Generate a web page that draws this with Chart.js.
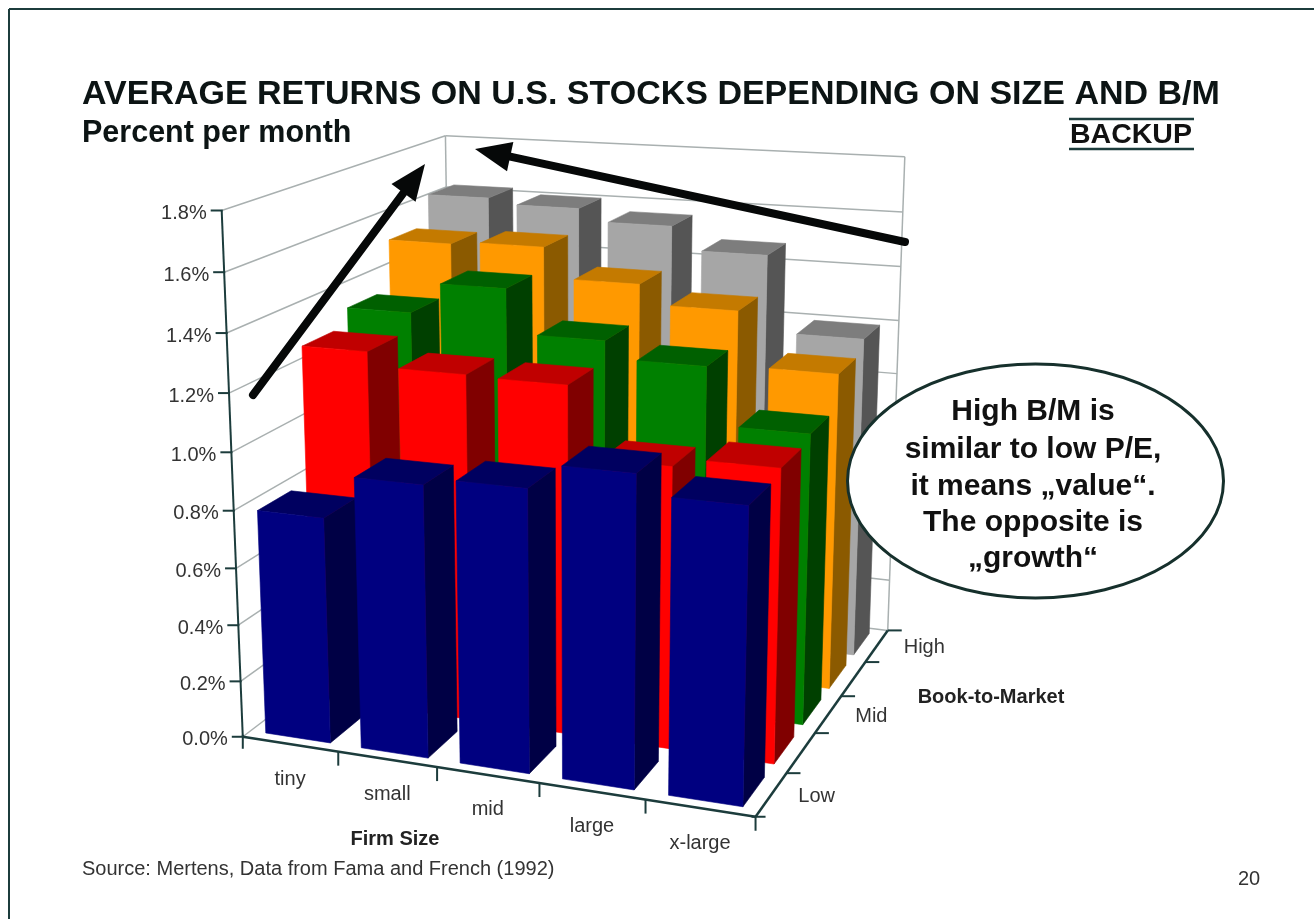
<!DOCTYPE html>
<html>
<head>
<meta charset="utf-8">
<title>Average returns on U.S. stocks</title>
<script src="https://cdn.jsdelivr.net/npm/chart.js@4/dist/chart.umd.js"></script>
<style>
  body { margin: 0; background: #fff; }
  canvas { display: block; }
</style>
</head>
<body>
<canvas id="chart" width="1314" height="919"></canvas>
<script>
// --- DATA ---
const firmSizes = ['tiny', 'small', 'mid', 'large', 'x-large'];
const bookToMarket = ['Low', '', 'Mid', '', 'High'];
const lowRow = [0.79, 0.94, 0.965, 1.05, 0.985];
const row2 = [1.27, 1.22, 1.215, 0.975, 1.005];
const midRow = [1.33, 1.44, 1.285, 1.225, 1.025];
const row4 = [1.51, 1.52, 1.41, 1.34, 1.145];
const highRow = [1.62, 1.60, 1.555, 1.47, 1.19];
const rowValues = [lowRow, row2, midRow, row4, highRow];
// front, top, side
const rowColors = [
    ['#000080', '#000060', '#000045'],
    ['#ff0000', '#c00000', '#800000'],
    ['#008000', '#006000', '#004000'],
    ['#ff9900', '#c47a00', '#8b5a00'],
    ['#a6a6a6', '#7d7d7d', '#555555']
];
const calloutLines = ['High B/M is', 'similar to low P/E,', 'it means „value“.', 'The opposite is', '„growth“'];

const FONT = '"Liberation Sans", Arial, sans-serif';
const INK = '#1c3c3c';

// --- PROJECTION (cube corners of the plot box -> screen) ---
// u = firm size, v = book-to-market depth, w = value, all 0..1
const cubeCorners = [
    [0, 0, 0, 243, 737],
    [1, 0, 0, 755, 817],
    [1, 1, 0, 888, 630],
    [0, 0, 1, 222, 210],
    [1, 1, 1, 905, 157],
    [0, 1, 1, 445, 136]
];

function solveProjection(pts) {
    // least squares for the 11 unknowns of a 3x4 camera matrix
    const rows = [];
    pts.forEach(([u, v, w, x, y]) => {
        rows.push([u, v, w, 1, 0, 0, 0, 0, -x * u, -x * v, -x * w, x]);
        rows.push([0, 0, 0, 0, u, v, w, 1, -y * u, -y * v, -y * w, y]);
    });
    const n = 11;
    const m = [];
    for (let i = 0; i < n; i++) {
        m[i] = [];
        for (let j = 0; j <= n; j++) {
            m[i][j] = rows.reduce((s, r) => s + r[i] * r[j], 0);
        }
    }
    for (let c = 0; c < n; c++) {
        let p = c;
        for (let r = c + 1; r < n; r++) if (Math.abs(m[r][c]) > Math.abs(m[p][c])) p = r;
        [m[c], m[p]] = [m[p], m[c]];
        for (let r = 0; r < n; r++) {
            if (r === c) continue;
            const f = m[r][c] / m[c][c];
            for (let j = c; j <= n; j++) m[r][j] -= f * m[c][j];
        }
    }
    return m.map((r, i) => r[n] / r[i]);
}

const cam = solveProjection(cubeCorners);

function project(u, v, w) {
    const d = cam[8] * u + cam[9] * v + cam[10] * w + 1;
    return [
        (cam[0] * u + cam[1] * v + cam[2] * w + cam[3]) / d,
        (cam[4] * u + cam[5] * v + cam[6] * w + cam[7]) / d
    ];
}

function poly(ctx, pts, fill) {
    ctx.beginPath();
    pts.forEach((p, i) => i ? ctx.lineTo(p[0], p[1]) : ctx.moveTo(p[0], p[1]));
    ctx.closePath();
    ctx.fillStyle = fill;
    ctx.strokeStyle = fill;
    ctx.lineWidth = 0.6;
    ctx.fill();
    ctx.stroke();
}

function seg(ctx, a, b, color, width) {
    ctx.beginPath();
    ctx.moveTo(a[0], a[1]);
    ctx.lineTo(b[0], b[1]);
    ctx.strokeStyle = color;
    ctx.lineWidth = width;
    ctx.stroke();
}

function label(ctx, text, x, y, font, color, align) {
    ctx.font = font;
    ctx.fillStyle = color || INK;
    ctx.textAlign = align || 'center';
    ctx.textBaseline = 'middle';
    ctx.fillText(text, x, y);
}

// position of a scale value as 0..1 along its axis
function decimal(scale, value) {
    return scale.getDecimalForPixel(scale.getPixelForValue(value));
}

// --- WALLS AND AXES ---
function drawWalls(chart, ctx) {
    const yScale = chart.scales.y;
    const grid = '#a9b0b0';
    yScale.ticks.forEach(t => {
        const w = decimal(yScale, t.value);
        seg(ctx, project(0, 0, w), project(0, 1, w), grid, 1.5);
        seg(ctx, project(0, 1, w), project(1, 1, w), grid, 1.5);
    });
    seg(ctx, project(0, 1, 0), project(0, 1, 1), grid, 1.5);
    seg(ctx, project(1, 1, 0), project(1, 1, 1), grid, 1.5);
}

function drawAxes(chart, ctx) {
    const { y: yScale, x: xScale, z: zScale } = chart.scales;
    const font = '20px ' + FONT;

    seg(ctx, project(0, 0, 0), project(0, 0, 1), INK, 2);
    seg(ctx, project(0, 0, 0), project(1, 0, 0), INK, 2.5);
    seg(ctx, project(1, 0, 0), project(1, 1, 0), INK, 2.5);

    yScale.ticks.forEach(t => {
        const p = project(0, 0, decimal(yScale, t.value));
        seg(ctx, [p[0] - 11, p[1]], [p[0] + 1, p[1]], INK, 2);
        label(ctx, t.label, p[0] - 15, p[1] + 3, font, '#333', 'right');
    });
    const nx = xScale.ticks.length;
    xScale.ticks.forEach((t, i) => {
        const p = project(decimal(xScale, i), 0, 0);
        label(ctx, t.label, p[0], p[1] + 35, font, '#333');
        const e = project((i + 1) / nx, 0, 0);
        seg(ctx, e, [e[0], e[1] + 14], INK, 2);
    });
    const e0 = project(0, 0, 0);
    seg(ctx, [e0[0], e0[1] - 2], [e0[0], e0[1] + 12], INK, 2);

    const nz = zScale.ticks.length;
    zScale.ticks.forEach((t, i) => {
        const p = project(1, decimal(zScale, i), 0);
        if (t.label) label(ctx, t.label, p[0] + 27, p[1] + 2, font, '#333', 'left');
        const e = project(1, (i + 1) / nz, 0);
        seg(ctx, e, [e[0] + 14, e[1]], INK, 2);
    });
    const e1 = project(1, 0, 0);
    seg(ctx, [e1[0] - 4, e1[1]], [e1[0] + 10, e1[1]], INK, 2);
}

// --- BARS: chart.js lays the bars out, each one is then put in the box ---
function drawBars(chart, ctx) {
    const { x: xScale, y: yScale, z: zScale } = chart.scales;
    const depth = 0.68 / rowValues.length;
    for (let row = rowValues.length - 1; row >= 0; row--) {
        const meta = chart.getDatasetMeta(row);
        const colors = chart.data.datasets[row].faceColors;
        const vc = decimal(zScale, row);
        const v0 = vc - depth / 2;
        const v1 = vc + depth / 2;
        meta.data.forEach(bar => {
            const u0 = xScale.getDecimalForPixel(bar.x - bar.width / 2);
            const u1 = xScale.getDecimalForPixel(bar.x + bar.width / 2);
            const h = yScale.getDecimalForPixel(bar.y);
            poly(ctx, [project(u1, v0, 0), project(u1, v1, 0), project(u1, v1, h), project(u1, v0, h)], colors[2]);
            poly(ctx, [project(u0, v0, h), project(u1, v0, h), project(u1, v1, h), project(u0, v1, h)], colors[1]);
            poly(ctx, [project(u0, v0, 0), project(u1, v0, 0), project(u1, v0, h), project(u0, v0, h)], colors[0]);
        });
    }
}

// --- SLIDE ANNOTATIONS ---
function arrow(ctx, from, to, headLen, headWidth) {
    const a = Math.atan2(to[1] - from[1], to[0] - from[0]);
    const c = Math.cos(a), s = Math.sin(a);
    const base = [to[0] - c * headLen, to[1] - s * headLen];
    ctx.lineCap = 'round';
    seg(ctx, from, base, '#060808', 8);
    ctx.lineCap = 'butt';
    ctx.beginPath();
    ctx.moveTo(to[0], to[1]);
    ctx.lineTo(base[0] - s * headWidth, base[1] + c * headWidth);
    ctx.lineTo(base[0] + s * headWidth, base[1] - c * headWidth);
    ctx.closePath();
    ctx.fillStyle = '#060808';
    ctx.fill();
}

function drawSlide(ctx) {
    // frame, only top and left are on the scan
    seg(ctx, [9, 919], [9, 9], INK, 2);
    seg(ctx, [9, 9], [1314, 9], INK, 2);

    // BACKUP sticker
    label(ctx, 'BACKUP', 1131, 135, 'bold 28.5px ' + FONT, '#111');
    seg(ctx, [1069, 119], [1194, 119], INK, 2.5);
    seg(ctx, [1069, 149], [1194, 149], INK, 2.5);

    label(ctx, 'Firm Size', 395, 839, 'bold 20px ' + FONT, '#222');
    label(ctx, 'Book-to-Market', 991, 697, 'bold 20px ' + FONT, '#222');
    label(ctx, 'Source: Mertens, Data from Fama and French (1992)', 82, 869, '20px ' + FONT, '#333', 'left');
    label(ctx, '20', 1249, 879, '20px ' + FONT, '#333');

    arrow(ctx, [253, 395], [425, 164], 36, 15);
    arrow(ctx, [905, 242], [475, 149], 36, 15);

    ctx.beginPath();
    ctx.ellipse(1035.5, 481, 188, 117, 0, 0, Math.PI * 2);
    ctx.fillStyle = '#fff';
    ctx.fill();
    ctx.strokeStyle = '#16302c';
    ctx.lineWidth = 3;
    ctx.stroke();
    const lineY = [412, 450, 487, 523, 559];
    calloutLines.forEach((t, i) => label(ctx, t, 1033, lineY[i], 'bold 30px ' + FONT, '#111'));
}

const scene3d = {
    id: 'scene3d',
    beforeDatasetsDraw(chart) {
        const ctx = chart.ctx;
        ctx.save();
        drawWalls(chart, ctx);
        drawBars(chart, ctx);
        drawAxes(chart, ctx);
        drawSlide(ctx);
        ctx.restore();
        return false;
    }
};

new Chart(document.getElementById('chart'), {
    type: 'bar',
    data: {
        labels: firmSizes,
        datasets: rowValues.map((values, i) => ({
            label: bookToMarket[i] || 'row ' + (i + 1),
            data: values,
            backgroundColor: rowColors[i][0],
            faceColors: rowColors[i]
        }))
    },
    plugins: [scene3d],
    options: {
        responsive: false,
        animation: false,
        grouped: false,
        categoryPercentage: 1,
        barPercentage: 0.68,
        layout: { padding: { left: 82, top: 74 } },
        plugins: {
            legend: { display: false },
            tooltip: { enabled: false },
            title: {
                display: true,
                text: 'AVERAGE RETURNS ON U.S. STOCKS DEPENDING ON SIZE AND B/M',
                align: 'start',
                color: '#0c1414',
                font: { family: FONT, size: 34, weight: 'bold' },
                padding: { top: 0, bottom: 0 }
            },
            subtitle: {
                display: true,
                text: 'Percent per month',
                align: 'start',
                color: '#0c1414',
                font: { family: FONT, size: 30.5, weight: 'bold' },
                padding: 0
            }
        },
        scales: {
            x: { type: 'category', display: false, offset: true },
            z: { type: 'category', axis: 'x', labels: bookToMarket, display: false, offset: true },
            y: {
                display: false,
                min: 0,
                max: 1.8,
                ticks: { stepSize: 0.2, callback: v => v.toFixed(1) + '%' }
            }
        }
    }
});
</script>
</body>
</html>
